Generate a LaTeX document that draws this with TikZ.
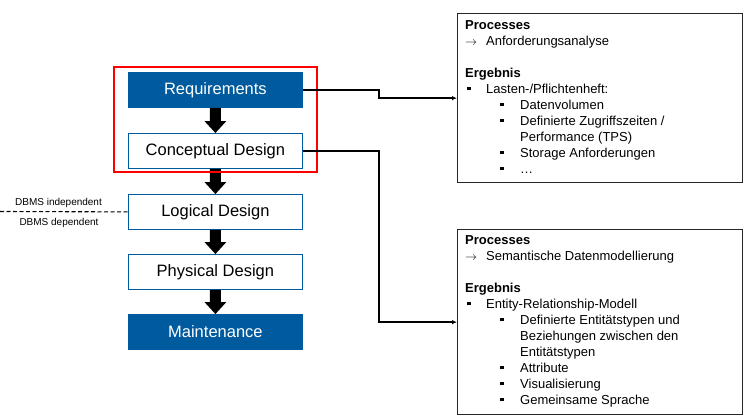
\documentclass[tikz,border=0pt]{standalone}
\usepackage{fontspec}
\setmainfont{Liberation Sans}
\usetikzlibrary{calc,arrows.meta}
\definecolor{dbblue}{RGB}{0,90,158}
\newcommand\sqb{\rule[0.2em]{3.5pt}{3.5pt}}
\newcommand\blockarrow[2]{%
  \fill[black] ($(#1.south)+(-5.5,0)$) -- ($(#1.south)+(5.5,0)$)
    -- ($(#2.north)+(5.5,-12)$) -- ($(#2.north)+(11,-12)$) -- (#2.north)
    -- ($(#2.north)+(-11,-12)$) -- ($(#2.north)+(-5.5,-12)$) -- cycle;}
\begin{document}
\begin{tikzpicture}[x=1pt,y=-1pt,
  phase/.style={draw=dbblue, line width=0.8pt, fill=white, minimum width=174pt, minimum height=35pt,
    inner sep=0pt, font=\fontsize{16.5}{18}\selectfont, anchor=north west},
  phasefill/.style={phase, fill=dbblue, text=white},
  infobox/.style={draw=black!85, line width=1.3pt, anchor=north west, inner sep=0pt,
    minimum width=285pt},
  ln/.style={anchor=base west, inner sep=0pt, font=\fontsize{13}{16}\selectfont},
  small/.style={anchor=base, inner sep=0pt, font=\fontsize{10}{12}\selectfont},
  conn/.style={line width=1.5pt, -{Latex[length=5pt,width=4.5pt]}}
]
\useasboundingbox (0,0) rectangle (747,418);

% phases
\node[phasefill] (req) at (128,72) {Requirements};
\node[phase] (con) at (128,133) {Conceptual Design};
\node[phase] (log) at (128,194) {Logical Design};
\node[phase] (phy) at (128,254) {Physical Design};
\node[phasefill] (mai) at (128,314) {Maintenance};

\blockarrow{req}{con}
\blockarrow{con}{log}
\blockarrow{log}{phy}
\blockarrow{phy}{mai}

% focus frame
\node[draw=red, line width=2pt, minimum width=203pt, minimum height=105pt, inner sep=0pt,
  anchor=north west] (focus) at (113,66) {};

% DBMS divider
\coordinate (dleft) at (0,211.5);
\draw[dashed, line width=1.1pt, dash pattern=on 4pt off 2.5pt] (dleft) -- (log.west);
\node[small] (dind) at (58.5,205) {DBMS independent};
\node[small] (ddep) at (59,225) {DBMS dependent};

% info boxes
\node[infobox, minimum height=169pt] (box1) at (457,13) {};
\node[infobox, minimum height=185pt] (box2) at (457,229) {};

% connectors
\coordinate (bend) at (379,0);
\draw[conn] (req.east) -- (req.east -| bend) |- (box1.west);
\draw[conn] (con.east) -- (con.east -| bend) |- (box2.west);

% box 1 text
\node[ln] (a1) at (465,29) {\textbf{Processes}};
\node[ln] (a2) at (465,45) {\makebox[21pt][l]{$\rightarrow$}Anforderungsanalyse};
\node[ln] (a3) at (465,77) {\textbf{Ergebnis}};
\node[ln] (a4) at (467,93) {\makebox[19pt][l]{\sqb}Lasten-/Pflichtenheft:};
\node[ln] (a5) at (500,109) {\makebox[20pt][l]{\sqb}Datenvolumen};
\node[ln] (a6) at (500,125) {\makebox[20pt][l]{\sqb}Definierte Zugriffszeiten /};
\node[ln] (a7) at (520,141) {Performance (TPS)};
\node[ln] (a8) at (500,157) {\makebox[20pt][l]{\sqb}Storage Anforderungen};
\node[ln] (a9) at (500,173) {\makebox[20pt][l]{\sqb}…};

% box 2 text
\node[ln] (b1) at (465,244) {\textbf{Processes}};
\node[ln] (b2) at (465,260) {\makebox[21pt][l]{$\rightarrow$}Semantische Datenmodellierung};
\node[ln] (b3) at (465,292) {\textbf{Ergebnis}};
\node[ln] (b4) at (467,308) {\makebox[19pt][l]{\sqb}Entity-Relationship-Modell};
\node[ln] (b5) at (500,324) {\makebox[20pt][l]{\sqb}Definierte Entitätstypen und};
\node[ln] (b6) at (520,340) {Beziehungen zwischen den};
\node[ln] (b7) at (520,356) {Entitätstypen};
\node[ln] (b8) at (500,372) {\makebox[20pt][l]{\sqb}Attribute};
\node[ln] (b9) at (500,388) {\makebox[20pt][l]{\sqb}Visualisierung};
\node[ln] (b10) at (500,404) {\makebox[20pt][l]{\sqb}Gemeinsame Sprache};
\end{tikzpicture}
\end{document}
